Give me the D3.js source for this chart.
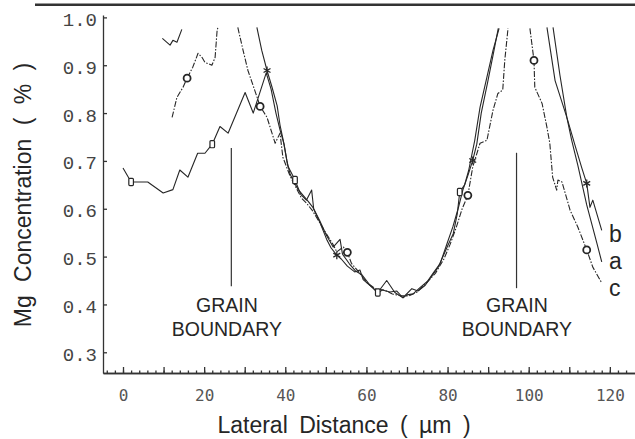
<!DOCTYPE html>
<html>
<head>
<meta charset="utf-8">
<script src="https://cdn.jsdelivr.net/npm/d3@7"></script>
<style>
  body { margin: 0; background: #fff; }
  svg { display: block; }
</style>
</head>
<body>
<div id="d3-container"></div>
<script>
"use strict"

/**
 * DATA (lateral distance in um, Mg concentration in %)
 * null = curve leaves the top of the plot
 * */
const xTickLabels = [0, 20, 40, 60, 80, 100, 120];
const yTickLabels = [0.3, 0.4, 0.5, 0.6, 0.7, 0.8, 0.9, 1.0];

// curve a : squares
const curveA = [
  [0.0, 0.685], [2.0, 0.656], [6.1, 0.656], [9.9, 0.633], [12.3, 0.640], [14.0, 0.681],
  [16.0, 0.666], [18.4, 0.716], [20.2, 0.716], [22.0, 0.735], [23.9, 0.772], [25.9, 0.758],
  [30.1, 0.843], [32.1, 0.800], [35.3, 0.884], [36.5, 0.850], [37.7, 0.800], [38.7, 0.765],
  [39.7, 0.735], [40.6, 0.690], [42.4, 0.660], [43.8, 0.630], [45.2, 0.618], [46.5, 0.639],
  [47.0, 0.600], [48.5, 0.575], [50.1, 0.545], [51.8, 0.520], [53.5, 0.536], [54.1, 0.505],
  [55.8, 0.485], [57.3, 0.470], [58.9, 0.462], [60.9, 0.440], [62.8, 0.425], [65.0, 0.450],
  [67.0, 0.425], [69.0, 0.414], [71.2, 0.433], [72.7, 0.428], [74.5, 0.440], [76.0, 0.458],
  [77.7, 0.478], [79.9, 0.520], [81.4, 0.548], [82.4, 0.590], [83.0, 0.635], [84.2, 0.650],
  [85.2, 0.680], [86.7, 0.743], [88.0, 0.812], [89.7, 0.875], [91.2, 0.931], [92.7, 0.977],
  null,
  [106.0, 0.979], [107.7, 0.879], [109.4, 0.791], [110.6, 0.743], [112.1, 0.691],
  [114.3, 0.608], [116.8, 0.528], [118.0, 0.489]
];

// curve b : stars
const curveB = [
  [9.7, 0.956], [11.6, 0.942], [12.3, 0.952], [13.3, 0.948], [14.5, 0.975],
  null,
  [33.0, 0.979], [34.2, 0.931], [35.5, 0.889], [36.7, 0.855], [38.0, 0.815], [38.7, 0.775],
  [39.5, 0.743], [40.4, 0.700], [41.2, 0.672], [42.2, 0.655], [43.2, 0.640], [44.4, 0.628],
  [45.7, 0.615], [46.8, 0.603], [47.8, 0.585], [48.6, 0.570], [50.3, 0.534], [51.3, 0.518],
  [52.7, 0.503], [53.8, 0.495], [55.3, 0.480], [57.1, 0.468], [58.4, 0.472], [59.2, 0.452],
  [61.4, 0.436], [62.8, 0.424], [63.9, 0.430], [65.8, 0.426], [67.5, 0.428], [69.0, 0.414],
  [70.0, 0.420], [71.5, 0.422], [73.2, 0.435], [75.0, 0.448], [76.5, 0.466], [78.2, 0.486],
  [79.9, 0.528], [81.3, 0.562], [82.6, 0.600], [83.8, 0.640], [85.1, 0.672], [86.2, 0.701],
  [87.2, 0.735], [88.3, 0.800], [89.9, 0.865], [91.3, 0.925], [92.5, 0.977],
  null,
  [104.5, 0.979], [106.5, 0.868], [109.4, 0.791], [111.4, 0.733], [113.1, 0.685],
  [114.3, 0.653], [115.1, 0.603], [115.8, 0.618], [118.0, 0.555]
];

// curve c : circles
const curveC = [
  [12.1, 0.791], [13.3, 0.833], [14.8, 0.854], [15.8, 0.873], [17.2, 0.896], [18.5, 0.925],
  [19.5, 0.916], [20.2, 0.906], [21.9, 0.900], [22.7, 0.916], [23.2, 0.973], [23.4, 0.979],
  null,
  [28.3, 0.979], [29.6, 0.931], [30.8, 0.889], [33.3, 0.827], [33.8, 0.814], [35.5, 0.791],
  [37.5, 0.737], [38.7, 0.758], [39.4, 0.708], [40.2, 0.690], [41.2, 0.668], [42.6, 0.645],
  [44.0, 0.622], [45.2, 0.612], [46.7, 0.596], [48.2, 0.575], [50.1, 0.548], [51.8, 0.525],
  [52.7, 0.510], [54.3, 0.520], [55.3, 0.509], [56.3, 0.486], [57.9, 0.470], [60.2, 0.445],
  [62.4, 0.432], [64.4, 0.430], [66.4, 0.422], [68.5, 0.418], [70.5, 0.418], [72.5, 0.426],
  [74.9, 0.446], [77.0, 0.465], [79.1, 0.495], [80.6, 0.525], [82.1, 0.560], [83.6, 0.600],
  [85.0, 0.628], [86.2, 0.687], [88.0, 0.737], [89.7, 0.743], [91.2, 0.806], [92.4, 0.841],
  [93.6, 0.848], [94.1, 0.910], [94.9, 0.977],
  null,
  [100.3, 0.977], [101.3, 0.910], [101.5, 0.854], [103.3, 0.820], [104.5, 0.770],
  [105.2, 0.737], [105.9, 0.666], [106.9, 0.639], [107.2, 0.660], [108.2, 0.656],
  [110.2, 0.597], [112.1, 0.562], [114.3, 0.514], [115.8, 0.478], [118.0, 0.445]
];

const squaresA = [[2.0, 0.656], [22.0, 0.735], [42.4, 0.660], [62.8, 0.425], [83.0, 0.635]];
const starsB = [[35.5, 0.889], [52.7, 0.503], [86.2, 0.701], [114.3, 0.653]];
const circlesC = [[15.8, 0.873], [33.8, 0.814], [55.3, 0.509], [85.0, 0.628], [101.3, 0.910], [114.3, 0.514]];

// grain boundaries: x, top, bottom of the marker line, x of the text
const boundaryX = [26.7, 97.0];
const boundaryTop = [0.727, 0.717];
const boundaryBottom = [0.438, 0.434];
const boundaryTextX = [25.6, 97.1];

const curveNames = ["b", "a", "c"];
const curveNameY = [0.530, 0.474, 0.418];

/**
 * CONSTANTS
 * */
const width = 635,
  height = 439,
  margin = { top: 15, bottom: 66, left: 103, right: 0 };

const ink = "#262626";

const x = d3.scaleLinear()
  .domain([-4.93, 126.2])
  .range([margin.left, width - margin.right]);

const y = d3.scaleLinear()
  .domain([0.2567, 1.005])
  .range([height - margin.bottom, margin.top]);

const svg = d3.select("#d3-container")
  .append("svg")
  .attr("width", width)
  .attr("height", height)
  .style("background", "white");

// thick rule across the top of the figure
svg.append("line")
  .attr("x1", 35).attr("x2", width)
  .attr("y1", 4.7).attr("y2", 4.7)
  .attr("stroke", "#333")
  .attr("stroke-width", 2.6);

/**
 * AXES
 * */
const yAxis = svg.append("g")
  .attr("transform", `translate(${margin.left},0)`)
  .call(d3.axisLeft(y)
    .tickValues(yTickLabels)
    .tickFormat(d3.format(".1f"))
    .tickSizeInner(-4)
    .tickSizeOuter(0)
    .tickPadding(6));

yAxis.selectAll("text")
  .attr("dy", "0.42em")
  .style("font-family", "'Liberation Mono', 'Courier New', monospace")
  .style("font-size", "19px")
  .style("fill", "#444");

const xBase = height - margin.bottom;

// minor ticks every 2 um
svg.append("g")
  .attr("transform", `translate(0,${xBase})`)
  .call(d3.axisBottom(x)
    .tickValues(d3.range(-4, 126, 2))
    .tickFormat("")
    .tickSizeInner(-2.5)
    .tickSizeOuter(0));

const xAxis = svg.append("g")
  .attr("transform", `translate(0,${xBase})`)
  .call(d3.axisBottom(x)
    .tickValues(d3.range(0, 121, 10))
    .tickFormat(d => xTickLabels.includes(d) ? d : "")
    .tickSizeInner(-6)
    .tickSizeOuter(0)
    .tickPadding(16.5));

xAxis.selectAll("text")
  .style("font-family", "'DejaVu Sans Mono', monospace")
  .style("font-size", "16px")
  .style("fill", "#555");

svg.selectAll(".domain, .tick line")
  .attr("stroke", "#333")
  .attr("stroke-width", 1.3);

svg.append("text")
  .attr("x", 344)
  .attr("y", 433)
  .attr("text-anchor", "middle")
  .style("font-family", "'Liberation Sans', Arial, sans-serif")
  .style("font-size", "23px")
  .style("word-spacing", "5px")
  .style("fill", ink)
  .text("Lateral Distance ( \u00b5m )");

svg.append("text")
  .attr("transform", "translate(31,195) rotate(-90)")
  .attr("text-anchor", "middle")
  .style("font-family", "'Liberation Sans', Arial, sans-serif")
  .style("font-size", "23px")
  .style("word-spacing", "7px")
  .style("fill", ink)
  .text("Mg Concentration ( % )");

/**
 * CURVES
 * */
const line = d3.line()
  .defined(d => d !== null)
  .x(d => x(d[0]))
  .y(d => y(d[1]));

const curves = [
  { data: curveA, dash: null },
  { data: curveB, dash: null },
  { data: curveC, dash: "6,1.6,1.5,1.6" }
];

svg.append("g")
  .selectAll("path")
  .data(curves)
  .join("path")
    .attr("d", d => line(d.data))
    .attr("fill", "none")
    .attr("stroke", ink)
    .attr("stroke-width", 1.1)
    .attr("stroke-linejoin", "round")
    .attr("stroke-dasharray", d => d.dash);

// markers
svg.append("g")
  .selectAll("rect")
  .data(squaresA)
  .join("rect")
    .attr("x", d => x(d[0]) - 2.3)
    .attr("y", d => y(d[1]) - 3.6)
    .attr("width", 4.6)
    .attr("height", 7.2)
    .attr("rx", 1)
    .attr("fill", "white")
    .attr("stroke", ink)
    .attr("stroke-width", 1.2);

svg.append("g")
  .selectAll("circle")
  .data(circlesC)
  .join("circle")
    .attr("cx", d => x(d[0]))
    .attr("cy", d => y(d[1]))
    .attr("r", 3.5)
    .attr("fill", "white")
    .attr("stroke", ink)
    .attr("stroke-width", 1.8);

const star = svg.append("g")
  .selectAll("g")
  .data(starsB)
  .join("g")
    .attr("transform", d => `translate(${x(d[0])},${y(d[1])})`);

[0, 60, 120].forEach(a => {
  star.append("line")
    .attr("x1", 0).attr("y1", -4)
    .attr("x2", 0).attr("y2", 4)
    .attr("transform", `rotate(${a})`)
    .attr("stroke", ink)
    .attr("stroke-width", 1.3);
});

/**
 * ANNOTATIONS
 * */
const boundaries = boundaryX.map((v, i) => ({
  x: v, top: boundaryTop[i], bottom: boundaryBottom[i], tx: boundaryTextX[i]
}));

const gb = svg.append("g")
  .selectAll("g")
  .data(boundaries)
  .join("g");

gb.append("line")
  .attr("x1", d => x(d.x)).attr("x2", d => x(d.x))
  .attr("y1", d => y(d.top)).attr("y2", d => y(d.bottom))
  .attr("stroke", "#333")
  .attr("stroke-width", 1.2);

gb.append("text")
  .attr("x", d => x(d.tx))
  .attr("y", 311.7)
  .attr("text-anchor", "middle")
  .style("font-family", "'Liberation Sans', Arial, sans-serif")
  .style("font-size", "19.5px")
  .style("fill", ink)
  .text("GRAIN");

gb.append("text")
  .attr("x", d => x(d.tx))
  .attr("y", 335.8)
  .attr("text-anchor", "middle")
  .style("font-family", "'Liberation Sans', Arial, sans-serif")
  .style("font-size", "19.5px")
  .style("fill", ink)
  .text("BOUNDARY");

svg.append("g")
  .selectAll("text")
  .data(curveNames)
  .join("text")
    .attr("x", x(119.8))
    .attr("y", (d, i) => y(curveNameY[i]))
    .style("font-family", "'Liberation Sans', Arial, sans-serif")
    .style("font-size", "23px")
    .style("fill", ink)
    .text(d => d);
</script>
</body>
</html>
